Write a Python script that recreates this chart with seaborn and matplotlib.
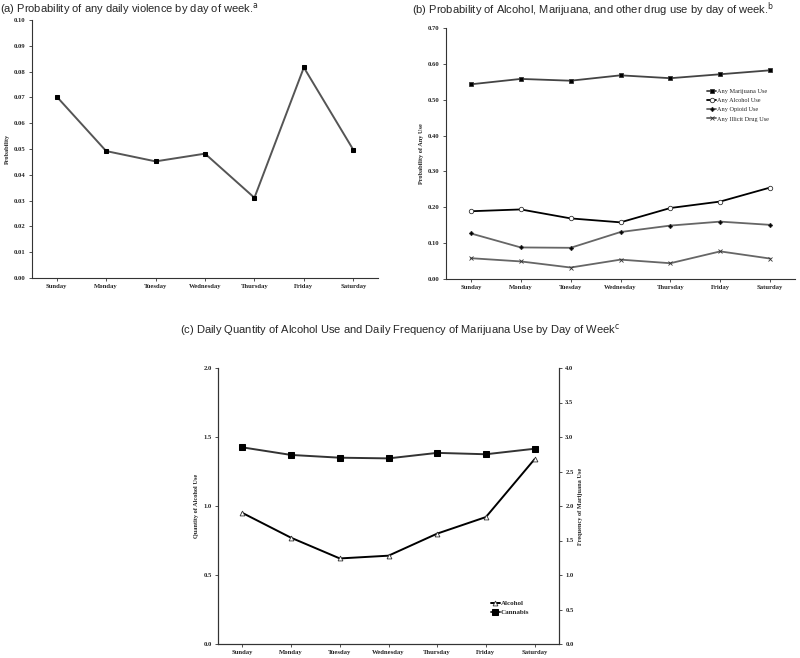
import pandas as pd
import numpy as np
import matplotlib.pyplot as plt
import seaborn as sns

# setup
sns.set_style('ticks')
plt.rcParams['font.family'] = ['Liberation Serif', 'DejaVu Serif']

days = ['Sunday', 'Monday', 'Tuesday', 'Wednesday', 'Thursday', 'Friday', 'Saturday']

# (a) violence
violence = [0.0703, 0.0492, 0.0452, 0.0482, 0.0311, 0.0816, 0.0497]

# (b) any use
marijuana_use = [0.543, 0.558, 0.553, 0.568, 0.560, 0.571, 0.582]
alcohol_use = [0.189, 0.194, 0.169, 0.158, 0.198, 0.216, 0.255]
opioid_use = [0.127, 0.088, 0.087, 0.131, 0.149, 0.160, 0.151]
illicit_use = [0.058, 0.049, 0.032, 0.054, 0.044, 0.077, 0.057]

# (c) quantity / frequency
alcohol_qty = [0.95, 0.77, 0.62, 0.64, 0.80, 0.92, 1.34]
cannabis_freq = [2.85, 2.74, 2.70, 2.69, 2.77, 2.75, 2.83]

W, H = 800, 658
fig = plt.figure(figsize=(W / 100, H / 100), dpi=100)
TICK_FS = 4.8


def add_ax(x0, y0, x1, y1):
    # pixel box (top-left origin) -> figure axes
    return fig.add_axes([x0 / W, 1 - y1 / H, (x1 - x0) / W, (y1 - y0) / H])


def set_yt(ax, ticks, fmt):
    ax.set_yticks(ticks)
    ax.set_yticklabels([fmt.format(v) for v in ticks], fontweight='bold', fontsize=TICK_FS)


def style_ax(ax, ylabel):
    ax.set_xlim(-0.5, 6.5)
    ax.set_xticks(range(7))
    ax.set_xticklabels(days, fontweight='bold', fontsize=TICK_FS)
    ax.tick_params(axis='both', length=2.5, width=0.6, pad=2, color='#333333')
    ax.set_xlabel('')
    ax.set_ylabel(ylabel, fontsize=4.5, fontweight='bold', labelpad=3)
    for s in ax.spines.values():
        s.set_linewidth(0.8)
        s.set_color('#333333')
    sns.despine(ax=ax)


# ---------- (a)
ax_a = add_ax(32, 20, 378, 278)
df_a = pd.DataFrame({'day': days, 'prob': violence})
sns.lineplot(data=df_a, x='day', y='prob', sort=False, color='#555555', lw=1.4,
             marker='s', markersize=3.2, markerfacecolor='black', markeredgecolor='black', ax=ax_a)
ax_a.set_ylim(0, 0.10)
set_yt(ax_a, np.arange(0, 0.101, 0.01), '{:.2f}')
style_ax(ax_a, 'Probability')
fig.text(0.0, 1 - 9 / H, '(a) Probability of any daily violence by day of week.$^{\\mathrm{a}}$',
         fontsize=8, family='Liberation Sans', va='center', ha='left')

# ---------- (b)
ax_b = add_ax(446, 28, 795, 279)
series_b = {
    'Any Marijuana Use': (marijuana_use, 's', '#444444', 'black', 3.2),
    'Any Alcohol Use': (alcohol_use, 'o', 'black', 'white', 3.2),
    'Any Opioid Use': (opioid_use, 'D', '#666666', 'black', 2.2),
    'Any Illicit Drug Use': (illicit_use, 'x', '#666666', 'black', 3.0),
}
for name, (vals, mk, lc, fc, ms) in series_b.items():
    df_b = pd.DataFrame({'day': days, 'p': vals})
    sns.lineplot(data=df_b, x='day', y='p', sort=False, color=lc, lw=1.3, label=name,
                 marker=mk, markersize=ms, markerfacecolor=fc, markeredgecolor='#333333',
                 markeredgewidth=0.6, ax=ax_b)
ax_b.set_ylim(0, 0.70)
set_yt(ax_b, np.arange(0, 0.701, 0.10), '{:.2f}')
style_ax(ax_b, 'Probability of Any Use')
ax_b.legend(loc='upper left', bbox_to_anchor=(0.74, 0.77), frameon=False, fontsize=4.5,
            handlelength=1.4, handletextpad=0.1, labelspacing=0.6, borderpad=0)
fig.text(412 / W, 1 - 10 / H, '(b) Probability of Alcohol, Marijuana, and other drug use by day of week.$^{\\mathrm{b}}$',
         fontsize=8, family='Liberation Sans', va='center', ha='left')

# ---------- (c)
ax_c = add_ax(218, 368, 559, 644)
df_alc = pd.DataFrame({'day': days, 'q': alcohol_qty})
sns.lineplot(data=df_alc, x='day', y='q', sort=False, color='black', lw=1.4,
             marker='^', markersize=3.5, markerfacecolor='white', markeredgecolor='#333333',
             markeredgewidth=0.6, ax=ax_c, legend=False)
ax_c.set_ylim(0, 2.0)
set_yt(ax_c, np.arange(0, 2.01, 0.5), '{:.1f}')
style_ax(ax_c, 'Quantity of Alcohol Use')
ax_c.spines['right'].set_visible(True)

ax_c2 = ax_c.twinx()
df_can = pd.DataFrame({'day': days, 'f': cannabis_freq})
sns.lineplot(data=df_can, x='day', y='f', sort=False, color='#333333', lw=1.4,
             marker='s', markersize=4, markerfacecolor='black', markeredgecolor='black',
             ax=ax_c2, legend=False)
ax_c2.set_ylim(0, 4.0)
set_yt(ax_c2, np.arange(0, 4.01, 0.5), '{:.1f}')
ax_c2.tick_params(axis='y', length=2.5, width=0.6, pad=2, color='#333333')
ax_c2.set_ylabel('Frequency of Marijuana Use', fontsize=4.5, fontweight='bold', labelpad=3)
ax_c2.set_xlabel('')
for s in ax_c2.spines.values():
    s.set_linewidth(0.8)
    s.set_color('#333333')
ax_c2.spines['top'].set_visible(False)

h1 = ax_c.get_lines()[0]
h2 = ax_c2.get_lines()[0]
ax_c.legend([h1, h2], ['Alcohol', 'Cannabis'], loc='upper left', bbox_to_anchor=(0.79, 0.17),
            frameon=False, prop={'weight': 'bold', 'size': 5},
            handlelength=1.3, handletextpad=0.1, labelspacing=0.4, borderpad=0)
fig.text(400 / W, 1 - 330 / H,
         '(c) Daily Quantity of Alcohol Use and Daily Frequency of Marijuana Use by Day of Week$^{\\mathrm{c}}$',
         fontsize=8, family='Liberation Sans', va='center', ha='center')

fig.savefig('out.png', dpi=100, facecolor='white')
